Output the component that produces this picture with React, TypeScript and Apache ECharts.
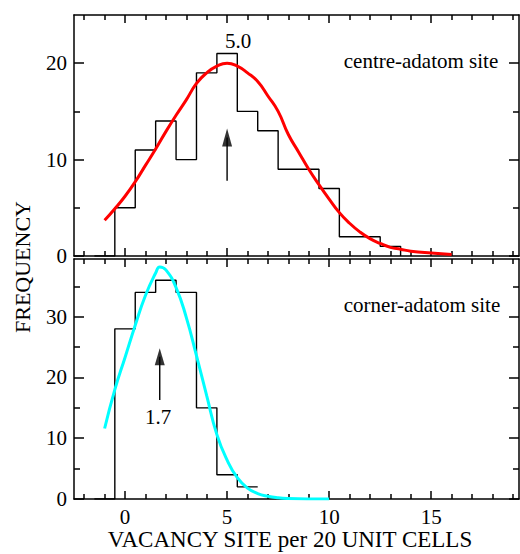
import React, { useEffect, useRef } from "react";
import * as echarts from "echarts";

// ---- data ----
const centreBinCenters = [-1, 0, 1, 2, 3, 4, 5, 6, 7, 8, 9, 10, 11, 12, 13];
const centreCounts = [0, 5, 11, 14, 10, 19, 21, 15, 13, 9, 9, 7, 2, 2, 1];
const cornerBinCenters = [-1, 0, 1, 2, 3, 4, 5, 6];
const cornerCounts = [0, 28, 34, 36, 34, 15, 4, 2];

const centreFitX = [-1, -0.5, 0, 0.5, 1, 1.5, 2, 2.5, 3, 3.5, 4, 4.5, 5, 5.5, 6, 6.5, 7, 7.5, 8, 8.5, 9, 9.5, 10, 10.5, 11, 11.5, 12, 12.5, 13, 13.5, 14, 15, 16];
const centreFitY = [3.7, 4.9, 6.2, 7.7, 9.4, 11.1, 12.9, 14.6, 16.2, 17.9, 19.0, 19.7, 20.0, 19.7, 19.0, 18.1, 16.6, 15.0, 12.6, 10.8, 9.0, 7.4, 5.9, 4.5, 3.4, 2.5, 1.8, 1.3, 0.9, 0.7, 0.5, 0.3, 0.15];

const cornerFitX = [-1, -0.5, 0, 0.5, 1, 1.5, 1.7, 2, 2.5, 3, 3.5, 4, 4.5, 5, 5.5, 6, 6.5, 7, 7.5, 8, 9, 10];
const cornerFitY = [11.6, 18.0, 23.3, 28.6, 33.5, 37.2, 38.2, 37.7, 34.8, 29.9, 23.6, 17.0, 10.6, 6.4, 3.5, 1.8, 0.9, 0.45, 0.2, 0.08, 0.01, 0];

const xMajorTicks = [0, 5, 10, 15];
const xMinorTicks = [-2, -1, 1, 2, 3, 4, 6, 7, 8, 9, 11, 12, 13, 14, 16, 17, 18, 19];
const topYMajor = [0, 10, 20];
const topYMinor = [5, 15];
const bottomYMajor = [0, 10, 20, 30];
const bottomYMinor = [5, 15, 25, 35];

const centreMean = 5.0;
const cornerMean = 1.7;
const centreArrow = [7.8, 12.3];
const cornerArrow = [16.3, 23.4];

const FONT = "Liberation Serif";

function stepPoints(centers: number[], counts: number[], closeEnd: boolean) {
  const pts: number[][] = [];
  pts.push([centers[0] - 0.5, 0]);
  centers.forEach((c, i) => {
    pts.push([c - 0.5, counts[i]]);
    pts.push([c + 0.5, counts[i]]);
  });
  if (closeEnd) pts.push([centers[centers.length - 1] + 0.5, 0]);
  return pts;
}

const zip = (xs: number[], ys: number[]) => xs.map((x, i) => [x, ys[i]]);

export default function App() {
  const ref = useRef<HTMLDivElement>(null);
  useEffect(() => {
    if (!ref.current) return;
    const chart = echarts.init(ref.current, null, { renderer: "svg" });
    const line = { color: "#000", width: 1.5 };
    const xAxes: any[] = [];
    const yAxes: any[] = [];
    [0, 1].forEach((g) => {
      const base = { gridIndex: g, type: "value", min: -2.5, max: 19.3, splitLine: { show: false } };
      ["bottom", "top"].forEach((pos) => {
        xAxes.push({
          ...base,
          position: pos,
          axisLine: { show: true, onZero: false, lineStyle: line },
          axisTick: { show: true, inside: true, length: 8, customValues: xMajorTicks, lineStyle: line },
          axisLabel: {
            show: g === 1 && pos === "bottom",
            customValues: xMajorTicks,
            fontFamily: FONT,
            fontSize: 21,
            color: "#000",
            margin: 7,
          },
        });
        xAxes.push({
          ...base,
          position: pos,
          axisLine: { show: false, onZero: false },
          axisTick: { show: true, inside: true, length: 5, customValues: xMinorTicks, lineStyle: line },
          axisLabel: { show: false, customValues: xMinorTicks },
        });
      });
      const ymax = g === 0 ? 25 : 39.5;
      const maj = g === 0 ? topYMajor : bottomYMajor;
      const min = g === 0 ? topYMinor : bottomYMinor;
      const ybase = { gridIndex: g, type: "value", min: 0, max: ymax, splitLine: { show: false } };
      ["left", "right"].forEach((pos) => {
        yAxes.push({
          ...ybase,
          position: pos,
          axisLine: { show: true, onZero: false, lineStyle: line },
          axisTick: { show: true, inside: true, length: 10, customValues: maj, lineStyle: line },
          axisLabel: {
            show: pos === "left",
            customValues: maj,
            fontFamily: FONT,
            fontSize: 21,
            color: "#000",
            margin: 7,
          },
        });
        yAxes.push({
          ...ybase,
          position: pos,
          axisLine: { show: false, onZero: false },
          axisTick: { show: true, inside: true, length: 6, customValues: min, lineStyle: line },
          axisLabel: { show: false, customValues: min },
        });
      });
    });

    const option: any = {
      animation: false,
      backgroundColor: "#fff",
      grid: [
        { left: 74, right: 1, top: 15, height: 241 },
        { left: 74, right: 1, top: 259, height: 240 },
      ],
      xAxis: xAxes,
      yAxis: yAxes,
      series: [
        {
          type: "line",
          xAxisIndex: 0,
          yAxisIndex: 0,
          data: stepPoints(centreBinCenters, centreCounts, true),
          showSymbol: false,
          lineStyle: { color: "#000", width: 1.4 },
          silent: true,
        },
        {
          type: "line",
          xAxisIndex: 0,
          yAxisIndex: 0,
          data: zip(centreFitX, centreFitY),
          smooth: true,
          showSymbol: false,
          lineStyle: { color: "#ff0000", width: 3 },
        },
        {
          type: "line",
          xAxisIndex: 0,
          yAxisIndex: 0,
          data: [[centreMean, centreArrow[0]], [centreMean, centreArrow[1]]],
          showSymbol: false,
          lineStyle: { color: "#000", width: 1.4 },
        },
        {
          type: "scatter",
          xAxisIndex: 0,
          yAxisIndex: 0,
          data: [[centreMean, centreArrow[1]]],
          symbol: "triangle",
          symbolSize: [10, 18],
          itemStyle: { color: "#000" },
        },
        {
          type: "line",
          xAxisIndex: 4,
          yAxisIndex: 4,
          data: stepPoints(cornerBinCenters, cornerCounts, false),
          showSymbol: false,
          lineStyle: { color: "#000", width: 1.4 },
        },
        {
          type: "line",
          xAxisIndex: 4,
          yAxisIndex: 4,
          data: zip(cornerFitX, cornerFitY),
          smooth: true,
          showSymbol: false,
          lineStyle: { color: "#00ffff", width: 3 },
        },
        {
          type: "line",
          xAxisIndex: 4,
          yAxisIndex: 4,
          data: [[cornerMean, cornerArrow[0]], [cornerMean, cornerArrow[1]]],
          showSymbol: false,
          lineStyle: { color: "#000", width: 1.4 },
        },
        {
          type: "scatter",
          xAxisIndex: 4,
          yAxisIndex: 4,
          data: [[cornerMean, cornerArrow[1]]],
          symbol: "triangle",
          symbolSize: [10, 17],
          itemStyle: { color: "#000" },
        },
      ],
      graphic: [
        { type: "text", x: 238, y: 41, style: { text: centreMean.toFixed(1), font: `21px '${FONT}'`, fill: "#000", textAlign: "center", textVerticalAlign: "middle" } },
        { type: "text", x: 421, y: 61, style: { text: "centre-adatom site", font: `21px '${FONT}'`, fill: "#000", textAlign: "center", textVerticalAlign: "middle" } },
        { type: "text", x: 422, y: 305, style: { text: "corner-adatom site", font: `21px '${FONT}'`, fill: "#000", textAlign: "center", textVerticalAlign: "middle" } },
        { type: "text", x: 158, y: 417, style: { text: cornerMean.toFixed(1), font: `21px '${FONT}'`, fill: "#000", textAlign: "center", textVerticalAlign: "middle" } },
        { type: "text", x: 290, y: 539, style: { text: "VACANCY SITE per 20 UNIT CELLS", font: `23px '${FONT}'`, fill: "#000", textAlign: "center", textVerticalAlign: "middle" } },
        { type: "text", x: 22, y: 267, rotation: Math.PI / 2, style: { text: "FREQUENCY", font: `22px '${FONT}'`, fill: "#000", textAlign: "center", textVerticalAlign: "middle" } },
      ],
    };
    chart.setOption(option);
    return () => chart.dispose();
  }, []);
  return <div ref={ref} style={{ position: "absolute", left: 0, top: 0, width: 520, height: 554 }} />;
}
